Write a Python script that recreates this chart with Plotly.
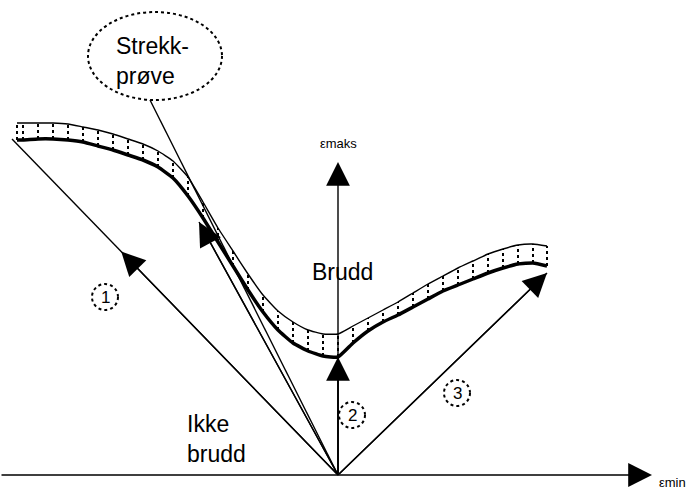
import plotly.graph_objects as go

# ---------------- data (strain units) ----------------
EPS_MIN = [-0.642, -0.63, -0.60, -0.57, -0.54, -0.51, -0.48, -0.45, -0.42, -0.39,
           -0.36, -0.33, -0.30, -0.27, -0.24, -0.21, -0.18, -0.15, -0.12, -0.09,
           -0.06, -0.03, 0.0, 0.03, 0.06, 0.09, 0.12, 0.15, 0.18, 0.21,
           0.24, 0.27, 0.30, 0.33, 0.36, 0.39, 0.418]
FRACTURE_LOWER = [0.670, 0.670, 0.672, 0.672, 0.670, 0.666, 0.658, 0.650, 0.640, 0.630,
                  0.616, 0.594, 0.558, 0.514, 0.466, 0.418, 0.370, 0.326, 0.290, 0.264,
                  0.248, 0.238, 0.236, 0.264, 0.288, 0.306, 0.320, 0.336, 0.352, 0.368,
                  0.380, 0.392, 0.404, 0.414, 0.422, 0.424, 0.418]
FRACTURE_UPPER = [0.704, 0.704, 0.704, 0.704, 0.702, 0.696, 0.690, 0.682, 0.672, 0.662,
                  0.648, 0.628, 0.596, 0.546, 0.494, 0.448, 0.402, 0.360, 0.328, 0.306,
                  0.290, 0.282, 0.282, 0.298, 0.314, 0.330, 0.346, 0.364, 0.382, 0.398,
                  0.414, 0.428, 0.442, 0.452, 0.460, 0.462, 0.458]

PATH_LABELS = ["1", "2", "3"]
PATH_END_MIN = [-0.652, 0.0, 0.418]
PATH_END_MAKS = [0.672, 0.236, 0.404]

TENSILE_END = (-0.278, 0.506)      # strain path of tensile specimen (arrow)
TENSILE_REF = (-0.376, 0.750)      # line to "Strekk-prøve" callout

AXIS_X_END = 0.628
AXIS_Y_END = 0.626

TEXT_BRUDD = "Brudd"
TEXT_IKKE = "Ikke<br>brudd"
TEXT_STREKK = "Strekk-<br>prøve"
LABEL_X = "εmin"
LABEL_Y = "εmaks"

# ---------------- layout constants ----------------
X_RANGE = [-0.676, 0.712]
Y_RANGE = [-0.038, 0.95]
FONT = "Liberation Sans, Arial, sans-serif"
ARROW_FRAC = [0.665, 1.0, 1.0]
CIRCLE_POS = [(-0.466, 0.356), (0.028, 0.120), (0.238, 0.164)]
CIRCLE_R = 0.026

fig = go.Figure()

# hatching between the two boundaries
hx, hy = [], []
for x, lo, up in zip(EPS_MIN, FRACTURE_LOWER, FRACTURE_UPPER):
    hx += [x, x, None]
    hy += [lo, up, None]
fig.add_trace(go.Scatter(x=hx, y=hy, mode="lines",
                         line=dict(color="black", width=2, dash="dot"),
                         hoverinfo="skip"))

fig.add_trace(go.Scatter(x=EPS_MIN, y=FRACTURE_UPPER, mode="lines",
                         line=dict(color="black", width=1.4, shape="spline", smoothing=0.4),
                         hoverinfo="skip"))
fig.add_trace(go.Scatter(x=EPS_MIN, y=FRACTURE_LOWER, mode="lines",
                         line=dict(color="black", width=3.5, shape="spline", smoothing=0.4),
                         hoverinfo="skip"))

# strain path lines
for ex, ey in zip(PATH_END_MIN, PATH_END_MAKS):
    fig.add_trace(go.Scatter(x=[0, ex], y=[0, ey], mode="lines",
                             line=dict(color="black", width=1.4), hoverinfo="skip"))
for ex, ey in (TENSILE_END, TENSILE_REF):
    fig.add_trace(go.Scatter(x=[0, ex], y=[0, ey], mode="lines",
                             line=dict(color="black", width=1.4), hoverinfo="skip"))

annotations = []


def arrow(x0, y0, x1, y1):
    annotations.append(dict(x=x1, y=y1, ax=x0, ay=y0, xref="x", yref="y",
                            axref="x", ayref="y", text="", showarrow=True,
                            arrowhead=2, arrowsize=3.4, arrowwidth=1.4,
                            arrowcolor="black", standoff=0, startstandoff=0))


# axes with arrowheads
arrow(X_RANGE[0], 0, AXIS_X_END, 0)
arrow(0, 0, 0, AXIS_Y_END)
# path arrowheads
for ex, ey, f in zip(PATH_END_MIN, PATH_END_MAKS, ARROW_FRAC):
    arrow(0, 0, ex * f, ey * f)
arrow(0, 0, TENSILE_END[0], TENSILE_END[1])

# texts
big = dict(family=FONT, size=23, color="black")
annotations.append(dict(x=-0.056, y=0.406, xref="x", yref="y", text=TEXT_BRUDD,
                        showarrow=False, xanchor="left", yanchor="middle", font=big))
annotations.append(dict(x=-0.306, y=0.072, xref="x", yref="y", text=TEXT_IKKE,
                        showarrow=False, xanchor="left", yanchor="middle", align="left",
                        font=big))
annotations.append(dict(x=-0.448, y=0.828, xref="x", yref="y", text=TEXT_STREKK,
                        showarrow=False, xanchor="left", yanchor="middle", align="left",
                        font=big))
annotations.append(dict(x=0.0, y=0.664, xref="x", yref="y", text=LABEL_Y,
                        showarrow=False, xanchor="center", yanchor="middle",
                        font=dict(family=FONT, size=13, color="black")))
annotations.append(dict(x=0.638, y=-0.014, xref="x", yref="y", text=LABEL_X,
                        showarrow=False, xanchor="left", yanchor="middle",
                        font=dict(family=FONT, size=13, color="black")))

shapes = []
for lab, (cx, cy) in zip(PATH_LABELS, CIRCLE_POS):
    shapes.append(dict(type="circle", xref="x", yref="y",
                       x0=cx - CIRCLE_R, x1=cx + CIRCLE_R, y0=cy - CIRCLE_R, y1=cy + CIRCLE_R,
                       line=dict(color="black", width=2, dash="dot")))
    annotations.append(dict(x=cx, y=cy, xref="x", yref="y", text=lab, showarrow=False,
                            xanchor="center", yanchor="middle",
                            font=dict(family=FONT, size=17, color="black")))

# callout ellipse
shapes.append(dict(type="circle", xref="x", yref="y", x0=-0.500, x1=-0.232,
                   y0=0.750, y1=0.926, line=dict(color="black", width=2, dash="dot")))

fig.update_layout(
    width=694, height=494,
    margin=dict(l=0, r=0, t=0, b=0),
    paper_bgcolor="white", plot_bgcolor="white",
    showlegend=False,
    xaxis=dict(range=X_RANGE, visible=False, fixedrange=True),
    yaxis=dict(range=Y_RANGE, visible=False, fixedrange=True),
    annotations=annotations, shapes=shapes,
)

fig.write_html(
    "out.html",
    config={"displayModeBar": False},
    post_script="document.body.style.margin='0px';document.body.style.overflow='hidden';",
)
